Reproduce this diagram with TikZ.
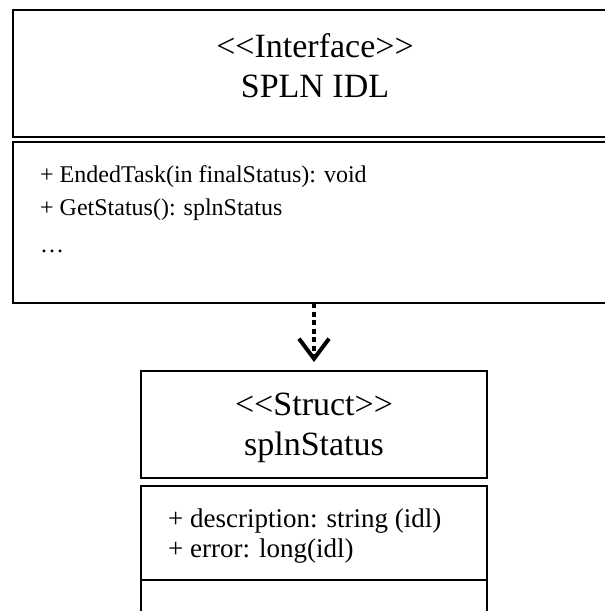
\documentclass[tikz,border=0pt]{standalone}
\usepackage{fontspec}
\setmainfont{Liberation Serif}
\usetikzlibrary{positioning, arrows.meta}

\begin{document}
\begin{tikzpicture}[x=1pt, y=-1pt,
  part/.style={draw, line width=1.8pt, inner sep=0pt, outer sep=0pt, anchor=north west},
  title/.style={font=\fontsize{34}{39.5}\selectfont, align=center, inner sep=0pt, anchor=base},
  member/.style={font=\fontsize{24}{28}\selectfont, anchor=base west, inner sep=0pt},
  field/.style={font=\fontsize{27}{30}\selectfont, anchor=base west, inner sep=0pt},
  dep/.style={line width=4pt, dash pattern=on 5pt off 3.5pt,
              -{Straight Barb[length=20pt, width=30pt]}, shorten >=9pt}]
  \useasboundingbox (0,0) rectangle (605,611);
  \clip (0,0) rectangle (605,611);
  % interface: header + operations (right edge runs off the page)
  \node[part, minimum width=596pt, minimum height=127pt] (ifhead) at (13,10) {};
  \node[part, minimum width=596pt, minimum height=161pt] (ifops) at (13,142) {};
  \node[title] (iftitle) at (315,97) {<{}<Interface>{}>\\SPLN IDL};
  \node[member] (op1) at (40,182) {+ EndedTask(in finalStatus): void};
  \node[member] (op2) at (40,215) {+ GetStatus(): splnStatus};
  \node[member] (op3) at (40,252) {…};
  % struct: header + attributes + empty operations
  \node[part, minimum width=346pt, minimum height=107pt] (sthead) at (141,371) {};
  \node[part, minimum width=346pt, minimum height=94pt] (stattr) at (141,486) {};
  \node[part, minimum width=346pt, minimum height=45pt] (stops) at (141,580) {};
  \node[title] (sttitle) at (314,455) {<{}<Struct>{}>\\splnStatus};
  \node[field] (at1) at (168,527) {+ description: string (idl)};
  \node[field] (at2) at (168,557) {+ error: long(idl)};
  % dependency
  \draw[dep] (sthead.north |- ifops.south) -- (sthead.north);
\end{tikzpicture}
\end{document}
